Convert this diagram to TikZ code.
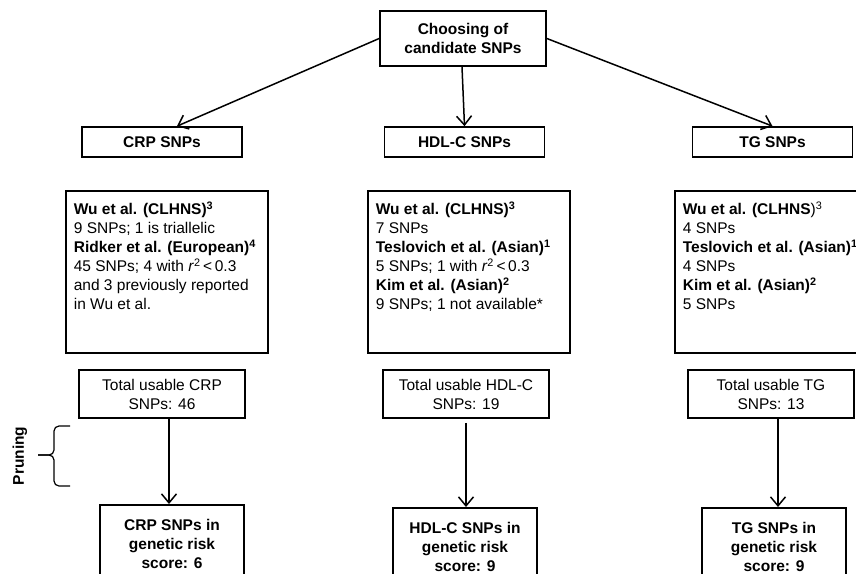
\documentclass[tikz,border=0pt]{standalone}
\usepackage{fontspec}
\setmainfont{Liberation Sans}
\usetikzlibrary{arrows.meta,positioning}

\newcommand{\srctext}[1]{\parbox[c][150pt][t]{186pt}{\raggedright\rule{0pt}{18pt}#1}}

\begin{document}
\begin{tikzpicture}[x=1pt,y=-1pt,
  every node/.style = {font=\fontsize{15.5}{19}\selectfont, align=center, inner sep=0pt},
  box/.style = {draw, line width=1.7pt},
  topbox/.style = {box, font=\fontsize{15.5}{19}\selectfont\bfseries, minimum width=166pt, minimum height=55pt},
  grpbox/.style = {box, font=\fontsize{15.5}{19}\selectfont\bfseries, minimum width=160pt, minimum height=30pt},
  srcbox/.style = {box, anchor=north west, align=left, inner xsep=8pt, inner ysep=6pt},
  totbox/.style = {box, minimum width=166pt, minimum height=48pt},
  scorebox/.style = {box, anchor=north, font=\fontsize{15.5}{19}\selectfont\bfseries, minimum width=144pt, minimum height=78pt},
  arr/.style = {-{Straight Barb[length=9pt,width=15pt]}, line width=1.5pt}]
  \useasboundingbox (0,0) rectangle (856,573);

  \node[topbox] (choose) at (463,38.5) {Choosing of\\candidate SNPs};

  \node[grpbox] (crp) at (162,142) {CRP SNPs};
  \node[grpbox] (hdl) at (464.5,142) {HDL-C SNPs};
  \node[grpbox] (tg) at (772.5,142) {TG SNPs};

  \node[srcbox] (crpsrc) at (65,190) {\srctext{%
    \textbf{Wu et al. (CLHNS)\textsuperscript{3}}\\
    9 SNPs; 1 is triallelic\\
    \textbf{Ridker et al. (European)\textsuperscript{4}}\\
    45 SNPs; 4 with \textit{r}\textsuperscript{2}\,<\,0.3\\
    and 3 previously reported\\
    in Wu et al.}};
  \node[srcbox] (hdlsrc) at (367,190) {\srctext{%
    \textbf{Wu et al. (CLHNS)\textsuperscript{3}}\\
    7 SNPs\\
    \textbf{Teslovich et al. (Asian)\textsuperscript{1}}\\
    5 SNPs; 1 with \textit{r}\textsuperscript{2}\,<\,0.3\\
    \textbf{Kim et al. (Asian)\textsuperscript{2}}\\
    9 SNPs; 1 not available*}};
  \node[srcbox] (tgsrc) at (674,190) {\srctext{%
    \textbf{Wu et al. (CLHNS}){\textsuperscript{3}}\\
    4 SNPs\\
    \textbf{Teslovich et al. (Asian)\textsuperscript{1}}\\
    4 SNPs\\
    \textbf{Kim et al. (Asian)\textsuperscript{2}}\\
    5 SNPs}};

  \node[totbox] (crptot) at (162,394) {Total usable CRP\\SNPs: 46};
  \node[totbox] (hdltot) at (466,394) {Total usable HDL-C\\SNPs: 19};
  \node[totbox] (tgtot) at (771,394) {Total usable TG\\SNPs: 13};

  \node[scorebox] (crpscore) at (172,504) {CRP SNPs in\\genetic risk\\score: 6};
  \node[scorebox] (hdlscore) at (465,507) {HDL-C SNPs in\\genetic risk\\score: 9};
  \node[scorebox] (tgscore) at (774,507) {TG SNPs in\\genetic risk\\score: 9};

  \draw[arr] (choose.west) -- ([xshift=15pt]crp.north);
  \draw[arr] ([xshift=-1pt]choose.south) -- (hdl.north);
  \draw[arr] (choose.east) -- (tg.north);

  \draw[arr] ([xshift=7pt]crptot.south) -- ([xshift=7pt]crptot.south |- crpscore.north);
  \draw[arr] ([yshift=-4pt]hdltot.south) -- (hdltot.south |- hdlscore.north);
  \draw[arr] ([xshift=7pt]tgtot.south) -- ([xshift=7pt]tgtot.south |- tgscore.north);

  % pruning brace
  \draw[line width=1.2pt, rounded corners=5pt] (70,426) -- (54,426) -- (54,455) -- (38,455);
  \draw[line width=1.2pt, rounded corners=5pt] (70,486) -- (54,486) -- (54,455) -- (38,455);
  \node[rotate=90, font=\fontsize{15.5}{19}\selectfont\bfseries] (prune) at (20,456) {Pruning};
\end{tikzpicture}
\end{document}
